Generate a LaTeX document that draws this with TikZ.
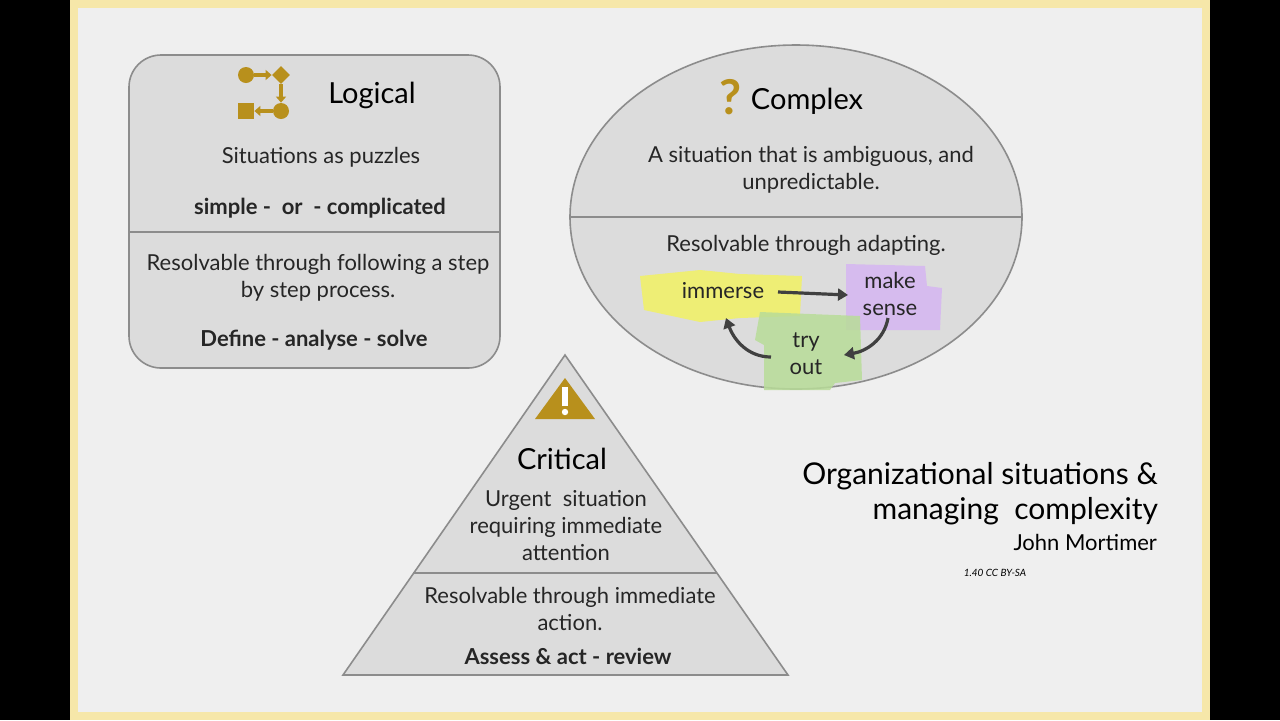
\documentclass[tikz,border=0pt]{standalone}
\usepackage{fontspec}
\setmainfont{Lato}
\usetikzlibrary{shapes.geometric,arrows.meta}
\definecolor{gold}{HTML}{B8901C}
\definecolor{boxfill}{HTML}{DCDCDC}
\definecolor{boxline}{HTML}{8C8C8C}
\definecolor{panel}{HTML}{EFEFEF}
\definecolor{frame}{HTML}{F6E7A9}
\definecolor{sy}{HTML}{F0F06A}
\definecolor{sp}{HTML}{D6B8F0}
\definecolor{sg}{HTML}{B8DC98}
\begin{document}
\begin{tikzpicture}[x=0.5pt,y=-0.5pt,
  shape box/.style={fill=boxfill,draw=boxline,line width=0.8pt},
  txt/.style={align=center,font=\fontsize{11}{13.5}\selectfont,text=black!85},
  bold/.style={txt,font=\fontsize{11}{13.5}\selectfont\bfseries},
  title/.style={font=\fontsize{14.5}{16}\selectfont},
  arr/.style={-{Triangle[length=5pt,width=6pt]},line width=1.6pt,draw=black!75},
  gold fill/.style={fill=gold,draw=none},
  iarr/.style={-{Triangle[length=3pt,width=5pt]},gold,line width=1.6pt}]
\useasboundingbox (0,0) rectangle (1280,720);
\fill[black] (0,0) rectangle (1280,720);
\fill[frame] (70,0) rectangle (1210,720);
\fill[panel] (78,8) rectangle (1202,712);
% Logical
\draw[shape box,rounded corners=16pt] (129,55) rectangle (500,368);
\draw[boxline,line width=0.8pt] (129,232) -- (500,232);
\node[gold fill,circle,minimum size=8pt,inner sep=0] (c1) at (246,75) {};
\node[gold fill,diamond,minimum size=9pt,inner sep=0] (d1) at (281,75) {};
\node[gold fill,circle,minimum size=8pt,inner sep=0] (c2) at (281,111) {};
\node[gold fill,rectangle,minimum size=8pt,inner sep=0] (s1) at (246,111) {};
\draw[iarr] (c1) -- (d1);
\draw[iarr] (d1) -- (c2);
\draw[iarr] (c2) -- (s1);
\node[title] (lt) at (372,95) {Logical};
\node[txt] (l1) at (321,157) {Situations as puzzles};
\node[bold] (l2) at (320,208) {simple -\ \ or\ \ - complicated};
\node[txt] (l3) at (318,278) {Resolvable through following a step\\by step process.};
\node[bold] (l4) at (314,340) {Define - analyse - solve};
% Complex
\draw[shape box] (796,217) ellipse [x radius=226,y radius=172];
\draw[boxline,line width=0.8pt] (570,217) -- (1022,217);
\node[font=\fontsize{24}{24}\selectfont\bfseries,text=gold] (q) at (731,97) {?};
\node[title] (ct) at (807,101) {Complex};
\node[txt] (c1t) at (811,170) {A situation that is ambiguous, and\\unpredictable.};
\node[txt] (c2t) at (806,245) {Resolvable through adapting.};
\fill[sy,opacity=0.9] (640,276) -- (700,270) -- (740,274) -- (802,276) -- (800,316) -- (740,318) -- (700,322) -- (644,310) -- cycle;
\fill[sp,opacity=0.9] (846,264) -- (925,266) -- (927,286) -- (942,288) -- (940,330) -- (846,330) -- cycle;
\fill[sg,opacity=0.85] (760,312) -- (860,316) -- (862,380) -- (835,383) -- (830,390) -- (764,390) -- (764,345) -- (755,340) -- cycle;
\node[txt] (im) at (723,291) {immerse};
\node[txt] (ms) at (890,294) {make\\sense};
\node[txt] (to) at (806,354) {try\\out};
\draw[arr] (778,292) -- (848,295);
\draw[arr] (888,318) to[out=-100,in=10] (844,355);
\draw[arr] (771,357) to[out=180,in=-70] (726,318);
% Critical
\draw[shape box] (565,355) -- (788,675) -- (343,675) -- cycle;
\draw[boxline,line width=0.8pt] (413,573) -- (717,573);
\fill[gold] (565,378) -- (595,419) -- (535,419) -- cycle;
\fill[white] (562,387) rectangle (568,406);
\fill[white] (565,412) circle (3.2);
\node[title] (crt) at (562,459) {Critical};
\node[txt] (cr1) at (566,526) {Urgent\ \ situation\\requiring immediate\\attention};
\node[txt] (cr2) at (570,609) {Resolvable through immediate\\action.};
\node[bold] (cr3) at (568,656) {Assess \& act - review};
% Title
\node[anchor=east,align=right,font=\fontsize{15}{17.5}\selectfont] (tt) at (1165,494) {Organizational situations \&\\managing\ \ complexity};
\node[anchor=east,font=\fontsize{11}{13}\selectfont] (au) at (1164,542) {John Mortimer};
\node[font=\fontsize{5}{6}\selectfont\itshape] (lic) at (995,573) {1.40 CC BY-SA};
\end{tikzpicture}
\end{document}
